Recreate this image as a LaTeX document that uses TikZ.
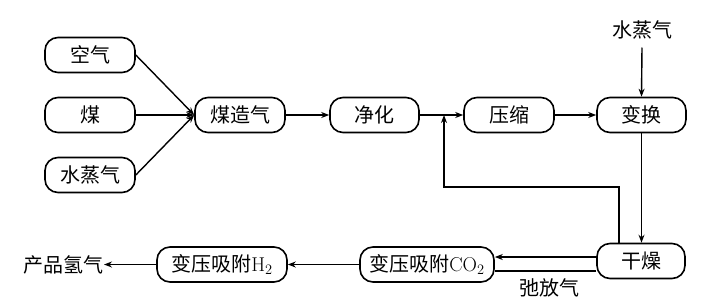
\documentclass[tikz,border=0pt]{standalone}
\usepackage{fontspec}
\newfontfamily\cjk{Noto Sans CJK SC}
\usetikzlibrary{arrows.meta}
\begin{document}
\begin{tikzpicture}[x=1pt,y=-1pt,
  box/.style={draw,line width=1.6pt,rounded corners=13pt,minimum height=35pt,inner sep=0pt,font=\fontsize{20}{20}\selectfont},
  lbl/.style={inner sep=0pt,font=\fontsize{20}{20}\selectfont},
  arr/.style={line width=1.4pt,-{Stealth[length=8pt,width=6pt]}},
  ln/.style={line width=1.4pt}]
\useasboundingbox (0,0) rectangle (704,306);
\node[box,minimum width=90pt] (air) at (90,55) {\cjk 空气};
\node[box,minimum width=90pt] (coal) at (90,115) {\cjk 煤};
\node[box,minimum width=90pt] (steamL) at (90,175) {\cjk 水蒸气};
\node[box,minimum width=90pt] (gas) at (240,115) {\cjk 煤造气};
\node[box,minimum width=89pt] (pur) at (374.5,115) {\cjk 净化};
\node[box,minimum width=90pt] (comp) at (509,115) {\cjk 压缩};
\node[box,minimum width=89pt] (shift) at (641.5,115) {\cjk 变换};
\node[lbl] (steamT) at (642,30) {\cjk 水蒸气};
\node[box,minimum width=88pt] (dry) at (641,261) {\cjk 干燥};
\node[box,minimum width=134pt] (co2) at (427,264.5) {{\cjk 变压吸附}CO$_2$};
\node[box,minimum width=130pt] (h2) at (222,264.5) {{\cjk 变压吸附}H$_2$};
\node[lbl,anchor=east] (prod) at (104,264.5) {\cjk 产品氢气};
\node[lbl] (purge) at (549,288) {\cjk 弛放气};
\coordinate (j) at (444,115);
\draw[arr] (air.east) -- (gas.west);
\draw[arr] (coal.east) -- (gas.west);
\draw[arr] (steamL.east) -- (gas.west);
\draw[arr] (gas) -- (pur);
\draw[ln] (pur) -- (j);
\draw[arr] (j) -- (comp);
\draw[arr] (comp) -- (shift);
\draw[arr] (steamT.south) ++(0,8) -- (shift.north);
\draw[arr] (shift.south) -- (dry.north -| shift.south);
\draw[arr] (dry.north -| 619,0) |- (444,187) -- (j);
\draw[arr] (dry.west |- 0,257) -- (co2.east |- 0,257);
\draw[ln] (dry.west |- 0,271) -- (co2.east |- 0,271);
\draw[arr] (co2) -- (h2);
\draw[arr] (h2) -- (prod);
\end{tikzpicture}
\end{document}
